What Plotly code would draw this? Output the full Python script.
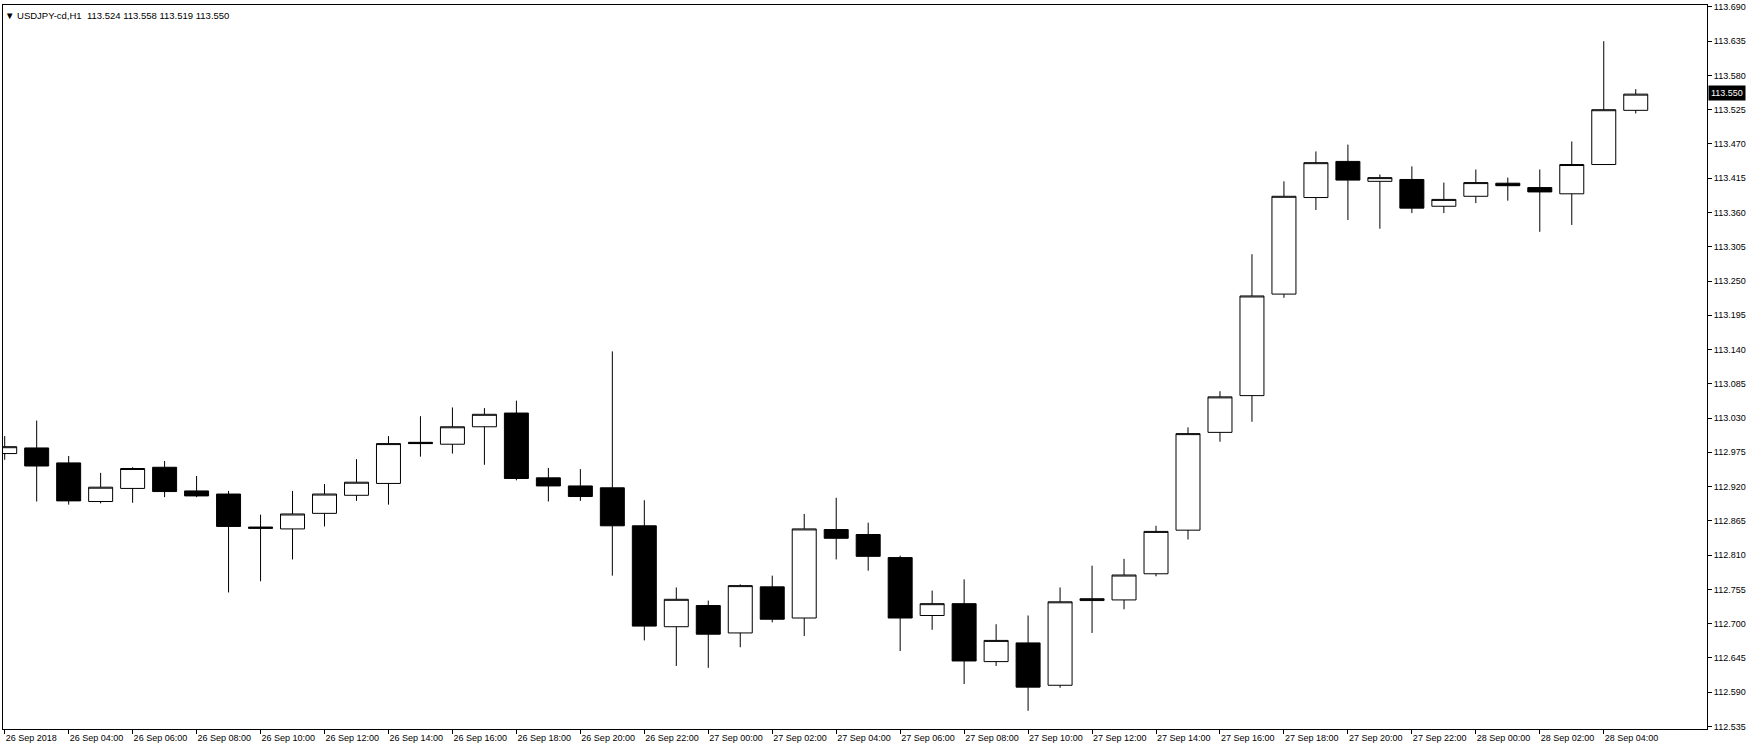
import pandas as pd
import plotly.graph_objects as go

# hourly bars USDJPY-cd, H1 (26 Sep 02:00 -> 28 Sep 05:00)
times = pd.date_range('2018-09-26 02:00', periods=52, freq='h')

opens = [112.973, 112.982, 112.958, 112.896, 112.917, 112.951, 112.913, 112.908, 112.855, 112.852,
         112.877, 112.906, 112.925, 112.991, 112.988, 113.016, 113.038, 112.934, 112.921, 112.918,
         112.857, 112.695, 112.729, 112.685, 112.759, 112.709, 112.851, 112.843, 112.806, 112.713,
         112.732, 112.639, 112.669, 112.601, 112.737, 112.738, 112.780, 112.850, 113.007, 113.066,
         113.229, 113.384, 113.442, 113.410, 113.413, 113.370, 113.386, 113.407, 113.400, 113.390,
         113.437, 113.524]
highs = [113.001, 113.026, 112.969, 112.942, 112.951, 112.961, 112.937, 112.913, 112.875, 112.913,
         112.924, 112.964, 113.001, 113.033, 113.047, 113.046, 113.058, 112.950, 112.948, 113.137,
         112.898, 112.758, 112.737, 112.763, 112.777, 112.876, 112.902, 112.862, 112.809, 112.753,
         112.771, 112.699, 112.713, 112.758, 112.793, 112.804, 112.857, 113.015, 113.073, 113.293,
         113.410, 113.458, 113.469, 113.421, 113.434, 113.408, 113.429, 113.416, 113.429, 113.474,
         113.635, 113.558]
lows = [112.963, 112.896, 112.891, 112.893, 112.894, 112.903, 112.903, 112.750, 112.768, 112.803,
        112.856, 112.897, 112.891, 112.968, 112.973, 112.955, 112.930, 112.896, 112.897, 112.777,
        112.673, 112.632, 112.629, 112.662, 112.702, 112.680, 112.803, 112.785, 112.656, 112.690,
        112.603, 112.632, 112.560, 112.597, 112.685, 112.723, 112.776, 112.835, 112.992, 113.024,
        113.223, 113.364, 113.348, 113.334, 113.359, 113.359, 113.375, 113.379, 113.329, 113.340,
        113.437, 113.519]
closes = [112.984, 112.953, 112.897, 112.919, 112.949, 112.912, 112.905, 112.856, 112.853, 112.876,
          112.908, 112.927, 112.989, 112.989, 113.016, 113.036, 112.933, 112.921, 112.904, 112.857,
          112.696, 112.739, 112.683, 112.761, 112.707, 112.852, 112.837, 112.808, 112.709, 112.732,
          112.640, 112.673, 112.598, 112.735, 112.740, 112.778, 112.848, 113.005, 113.064, 113.226,
          113.386, 113.440, 113.412, 113.416, 113.367, 113.381, 113.408, 113.403, 113.393, 113.437,
          113.525, 113.550]

# price scale labels on the right
price_ticks = [round(113.690 - 0.055 * i, 3) for i in range(22)]

# time labels every 2 bars, first one carries the year
tick_times = times[::2]
tick_text = ['26 Sep 2018'] + [t.strftime('%d %b %H:%M') for t in tick_times[1:]]

font_name = 'Liberation Sans, DejaVu Sans'

fig = go.Figure(go.Candlestick(
    x=times, open=opens, high=highs, low=lows, close=closes,
    increasing=dict(line=dict(color='black', width=1), fillcolor='white'),
    decreasing=dict(line=dict(color='black', width=1), fillcolor='black'),
    whiskerwidth=0,
    hoverinfo='skip',
))

fig.update_layout(
    width=1750, height=750,
    margin=dict(l=2, r=43, t=2, b=21),
    plot_bgcolor='white',
    paper_bgcolor='white',
    showlegend=False,
    boxgap=0.25, boxgroupgap=0,
    font=dict(family=font_name, size=9, color='black'),
)

fig.update_xaxes(
    type='date',
    range=['2018-09-26 01:56:49', '2018-09-28 07:13:42'],
    rangeslider_visible=False,
    tickvals=tick_times, ticktext=tick_text,
    ticks='outside', ticklen=4, tickcolor='black',
    ticklabelposition='outside right',
    showgrid=False, zeroline=False,
    showline=True, linecolor='black', linewidth=1, mirror=True,
)

fig.update_yaxes(
    range=[112.5308, 113.6931],
    side='right',
    tickvals=price_ticks, ticktext=['%.3f' % v for v in price_ticks],
    ticks='outside', ticklen=4, tickcolor='black',
    ticklabeloverflow='allow',
    showgrid=False, zeroline=False,
    showline=True, linecolor='black', linewidth=1, mirror=True,
)

# header with symbol and last bar OHLC
header = '▼ USDJPY-cd,H1\u00a0\u00a0%.3f %.3f %.3f %.3f' % (opens[-1], highs[-1], lows[-1], closes[-1])
fig.add_annotation(text=header, xref='paper', yref='paper', x=0, y=1,
                   xanchor='left', yanchor='middle', yshift=-10, showarrow=False,
                   font=dict(family=font_name, size=9.5, color='black'))

# current price marker on the price scale
fig.add_annotation(text='%.3f' % closes[-1], xref='paper', yref='y', x=1, y=closes[-1],
                   xanchor='left', yanchor='middle', xshift=1, yshift=1, showarrow=False,
                   bgcolor='black', borderpad=2,
                   font=dict(family=font_name, size=9, color='white'))

# page body has a default 8px margin, drop it so the figure fills the window
fig.write_html("out.html", config={'displayModeBar': False},
               post_script="document.body.style.margin='0';")
